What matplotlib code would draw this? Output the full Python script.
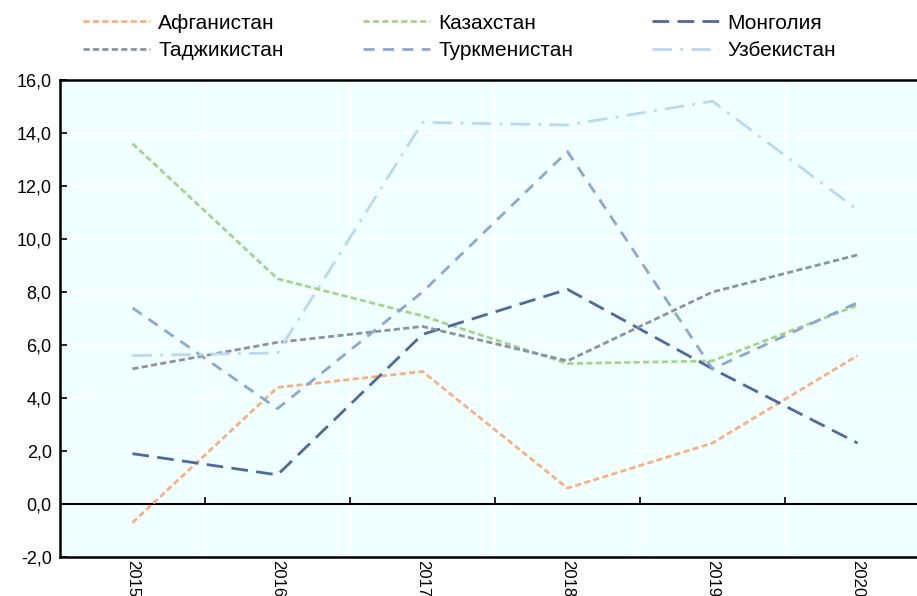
import matplotlib
matplotlib.use("Agg")
import matplotlib.pyplot as plt

plt.rcParams["font.family"] = ["Liberation Sans", "DejaVu Sans"]

years = ["2015", "2016", "2017", "2018", "2019", "2020"]
afghanistan = [-0.7, 4.4, 5.0, 0.6, 2.3, 5.6]
kazakhstan = [13.6, 8.5, 7.1, 5.3, 5.4, 7.5]
mongolia = [1.9, 1.1, 6.4, 8.1, 5.1, 2.3]
tajikistan = [5.1, 6.1, 6.7, 5.4, 8.0, 9.4]
turkmenistan = [7.4, 3.6, 8.0, 13.3, 5.1, 7.6]
uzbekistan = [5.6, 5.7, 14.4, 14.3, 15.2, 11.1]

series = [
    ("Афганистан", afghanistan, "#f4b183", (0, (2.2, 1.2))),
    ("Казахстан", kazakhstan, "#a9d18e", (0, (2.2, 1.2))),
    ("Монголия", mongolia, "#50689a", (0, (6, 3))),
    ("Таджикистан", tajikistan, "#8c93a0", (0, (2.2, 1.2))),
    ("Туркменистан", turkmenistan, "#8fa6cf", (0, (4, 3))),
    ("Узбекистан", uzbekistan, "#bdd7ee", (0, (7, 3, 1, 3))),
]

fig = plt.figure(figsize=(9.17, 5.96), dpi=100)
ax = fig.add_axes([0.0654, 0.0654, 0.9488, 0.8004])
ax.set_facecolor("#f0ffff")

x = list(range(len(years)))
lines = []
for name, vals, color, ls in series:
    ln, = ax.plot(x, vals, color=color, linestyle=ls, linewidth=2, label=name)
    lines.append(ln)

ax.set_xlim(-0.5, len(years) - 0.5)
ax.set_ylim(-2, 16)
ax.set_yticks(range(-2, 17, 2))
ax.set_yticklabels([f"{v:.1f}".replace(".", ",") for v in range(-2, 17, 2)], fontsize=13)
ax.tick_params(axis="y", direction="in", length=5, width=1.2, pad=6)

# white grid
for v in range(0, 17, 2):
    ax.axhline(v, color="white", linewidth=1.2, zorder=0)
for b in [i + 0.5 for i in range(len(years) - 1)]:
    ax.axvline(b, color="white", linewidth=1.2, zorder=0)

# zero line with category tick marks
ax.axhline(0, color="black", linewidth=1.5, zorder=1)
ax.vlines([i + 0.5 for i in range(len(years) - 1)], 0, 0.26, color="black", linewidth=1.2, zorder=1)

ax.set_xticks(x)
ax.set_xticklabels(years, rotation=-90, fontsize=12)
ax.tick_params(axis="x", length=0, pad=2)

for s in ax.spines.values():
    s.set_linewidth(1.8)
    s.set_color("black")

# row-major legend order
order = [0, 3, 1, 4, 2, 5]
ax.legend([lines[i] for i in order], [series[i][0] for i in order],
          loc="lower left", bbox_to_anchor=(0.015, 1.02), ncol=3, frameon=False,
          fontsize=15, handlelength=3.2, handletextpad=0.4, columnspacing=3.8,
          labelspacing=0.4, borderaxespad=0.1)

fig.savefig("out.png", dpi=100)
